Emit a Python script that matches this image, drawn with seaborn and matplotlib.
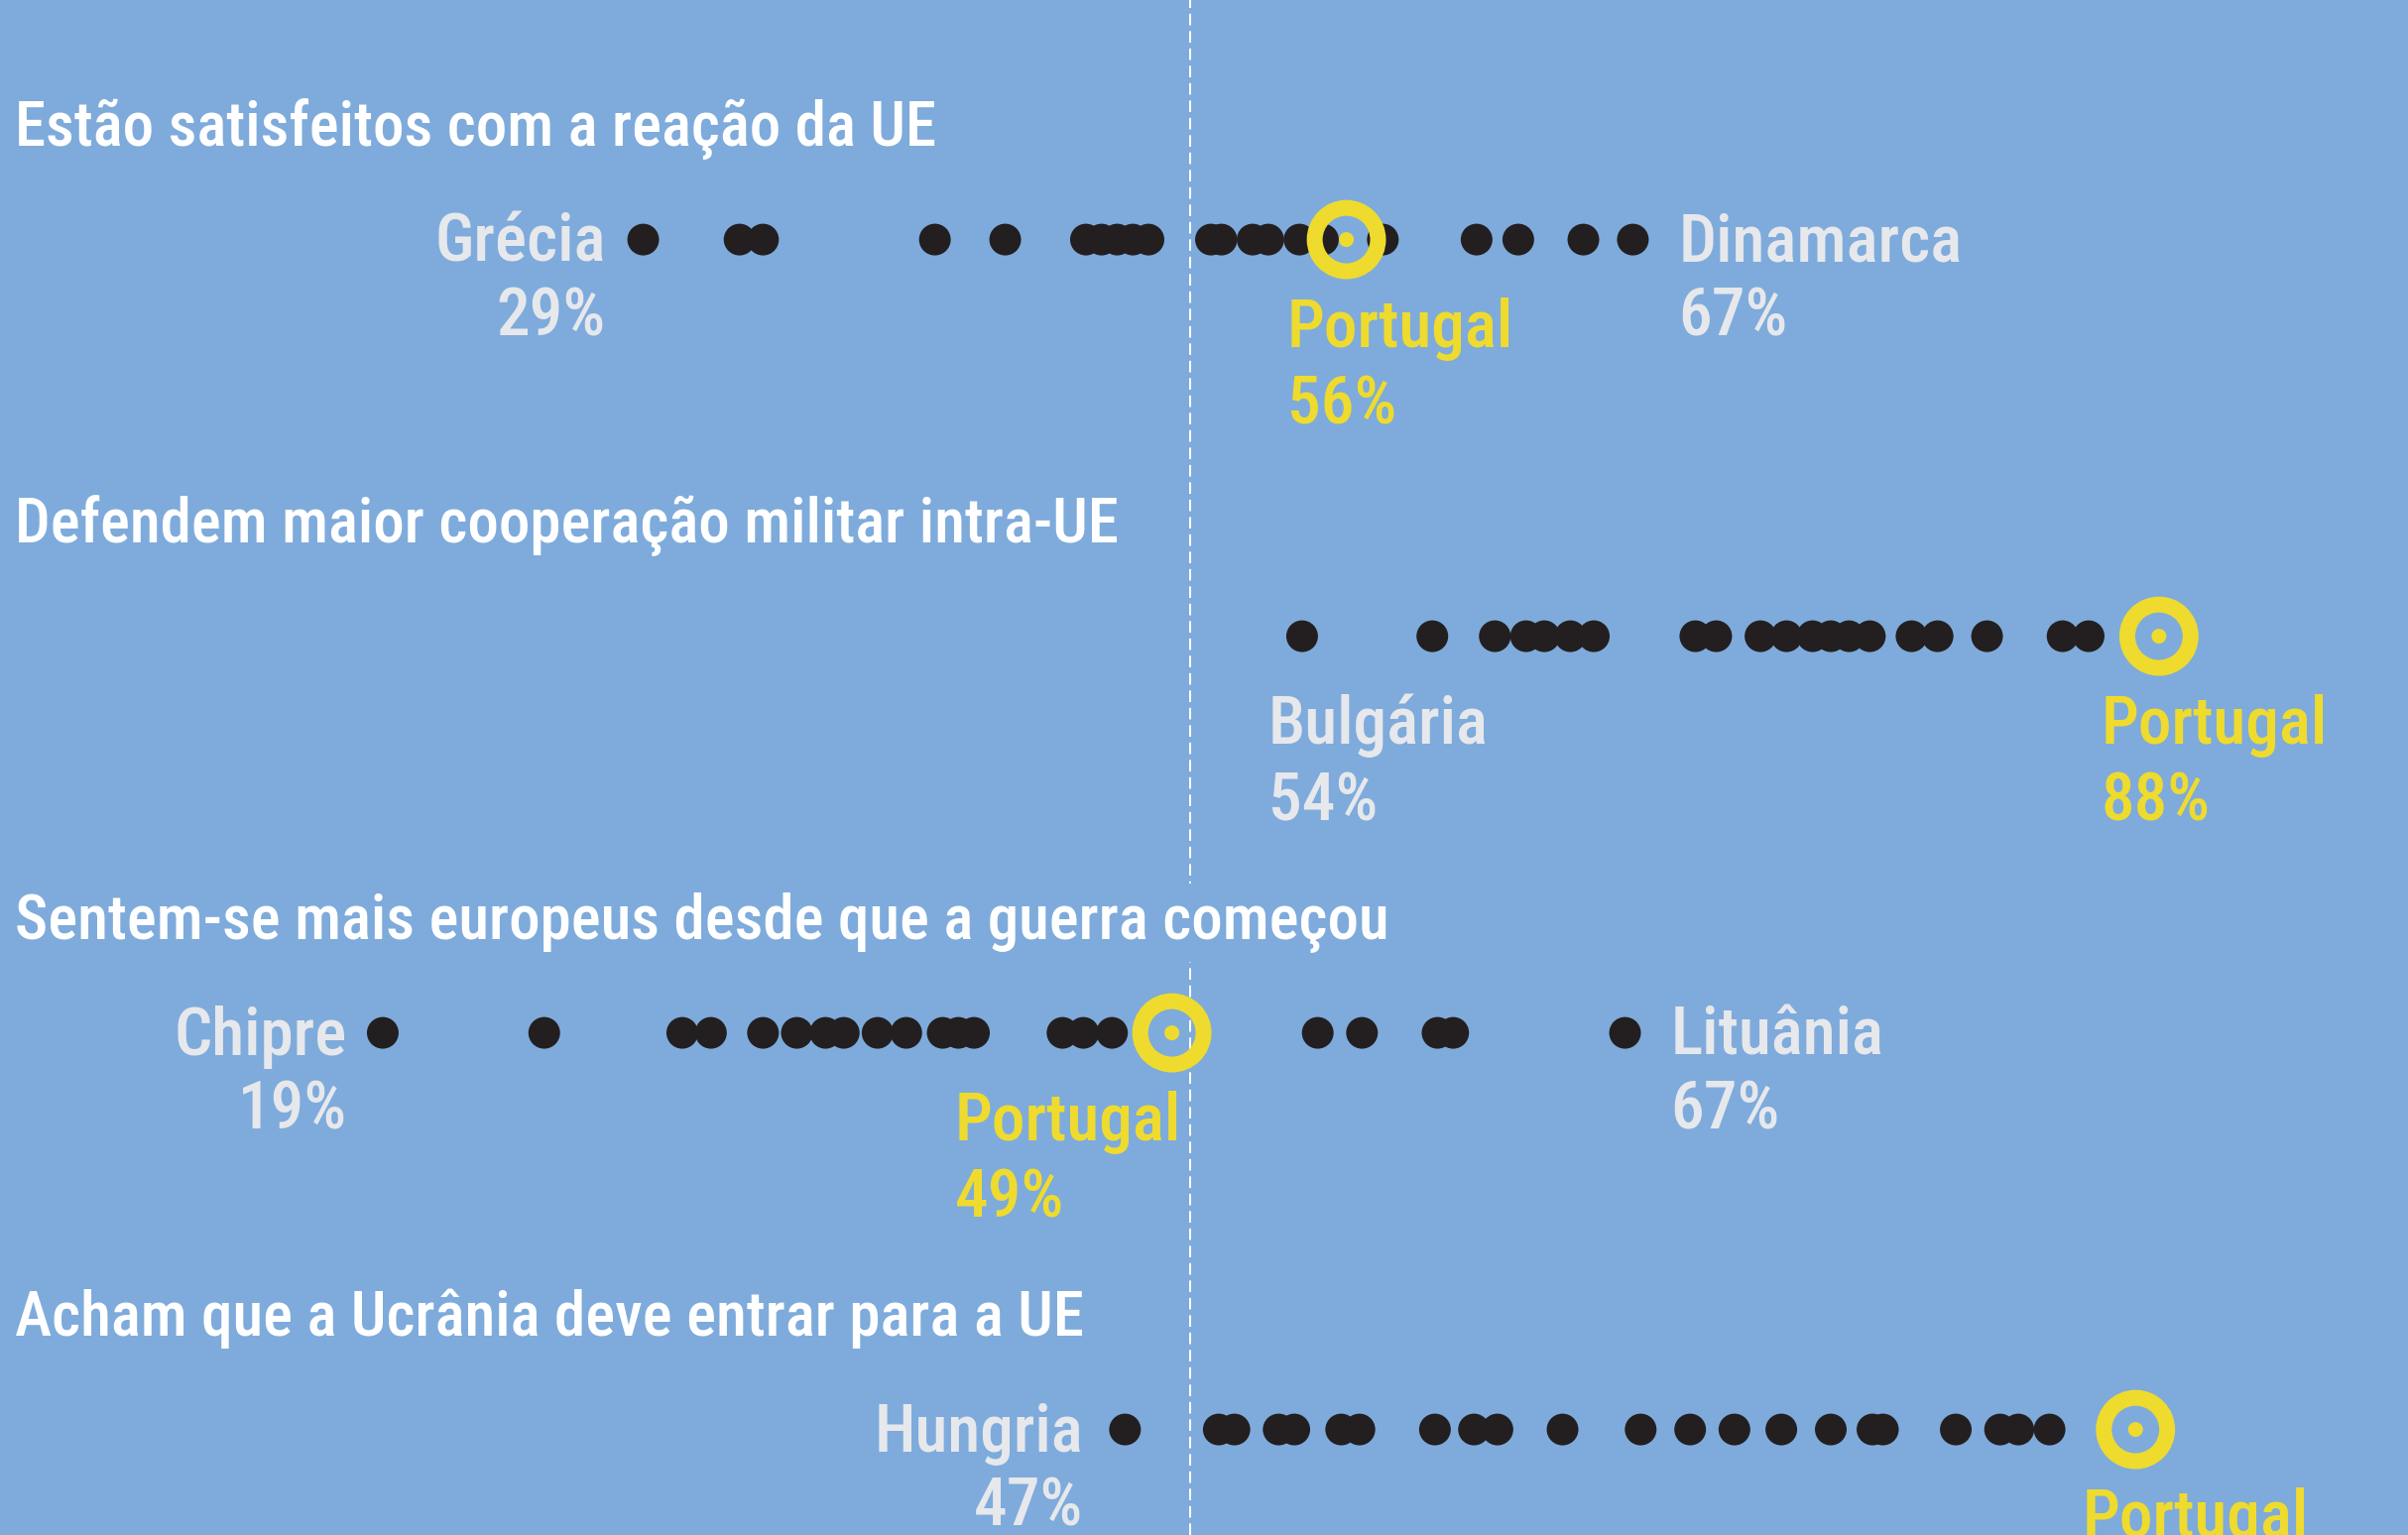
import matplotlib
matplotlib.use("Agg")
import matplotlib.pyplot as plt
from matplotlib import font_manager as fm
from matplotlib.transforms import blended_transform_factory
import pandas as pd
import seaborn as sns

# --- dados (percentagem por país, uma linha por pergunta) ---
temas = [
    "Estão satisfeitos com a reação da UE",
    "Defendem maior cooperação militar intra-UE",
    "Sentem-se mais europeus desde que a guerra começou",
    "Acham que a Ucrânia deve entrar para a UE",
]
satisfeitos = [29, 32.7, 33.6, 40.2, 42.9, 46.0, 46.6, 47.2, 47.8, 48.4, 50.8,
               51.2, 52.4, 53.0, 54.2, 55.1, 57.4, 61.0, 62.6, 65.1, 67]
cooperacao = [54.3, 59.3, 61.7, 62.9, 63.6, 64.6, 65.5, 69.4, 70.2, 71.9, 72.9,
              73.9, 74.6, 75.3, 76.1, 77.7, 78.7, 80.6, 83.5, 84.5]
europeus = [19, 25.2, 30.5, 31.6, 33.6, 34.9, 36.0, 36.7, 38.0, 39.1, 40.5,
            41.1, 41.7, 45.1, 45.9, 47.0, 54.9, 56.6, 59.5, 60.1, 66.7]
ucrania = [47.5, 51.1, 51.7, 53.4, 54.0, 55.8, 56.5, 59.4, 60.9, 61.8, 64.3,
           67.3, 69.2, 70.9, 72.7, 74.6, 76.2, 76.6, 79.4, 81.1, 81.8, 83.0]

portugal = [56, 87.2, 49.3, 86.3]
# a última percentagem fica fora do recorte do original
portugal_rotulo = ["56%", "88%", "49%", ""]

extremos_pais = ["Grécia", "Dinamarca", "Bulgária", "Chipre", "Lituânia", "Hungria"]
extremos_linha = [0, 0, 1, 2, 2, 3]
extremos_valor = [29, 67, 54.3, 19, 66.7, 47.5]
extremos_rotulo = ["29%", "67%", "54%", "19%", "67%", "47%"]

# posição dos rótulos (modo, deslocamento horizontal em px)
extremos_modo = [("esq", -38), ("dir", 46), ("baixo", -34), ("esq", -36), ("dir", 46), ("esq", -42)]
portugal_dx = [-60, -58, -219, -54]

FUNDO = "#7EABDB"
PRETO = "#231F20"
AMARELO = "#EEDB2E"
CINZA = "#E6E8EC"


def fonte_estreita(peso):
    estreitos = ("condensed", "semi-condensed", "extra-condensed", "ultra-condensed")
    preferidas = ["Roboto Condensed", "Liberation Sans Narrow", "Open Sans", "Noto Sans", "DejaVu Sans"]
    melhor = None
    for f in fm.fontManager.ttflist:
        if f.style != "normal":
            continue
        if not (f.stretch in estreitos or "Condensed" in f.name or "Narrow" in f.name):
            continue
        w = f.weight if isinstance(f.weight, int) else fm.weight_dict.get(f.weight, 400)
        rank = next((i for i, p in enumerate(preferidas) if f.name.startswith(p)), 9)
        chave = (rank, abs(w - peso))
        if melhor is None or chave < melhor[0]:
            melhor = (chave, f.fname)
    if melhor:
        return fm.FontProperties(fname=melhor[1])
    return fm.FontProperties(family="Roboto", weight=peso)


fonte_titulo = fonte_estreita(500)
fonte_rotulo = fonte_estreita(500)

linhas = []
for i, valores in enumerate([satisfeitos, cooperacao, europeus, ucrania]):
    linhas += [{"linha": i, "valor": v} for v in valores]
df = pd.DataFrame(linhas)
df_pt = pd.DataFrame({"linha": range(4), "valor": portugal})

fig = plt.figure(figsize=(24.28, 15.48), dpi=100)
fig.patch.set_facecolor(FUNDO)
ax = fig.add_axes([0, 0, 1, 1])
ax.set_facecolor(FUNDO)

ax.axvline(50, color="white", lw=1.4, dashes=(6, 3), zorder=1)

sns.scatterplot(data=df, x="valor", y="linha", color=PRETO, s=530,
                edgecolor="none", legend=False, ax=ax, zorder=2)
sns.scatterplot(data=df_pt, x="valor", y="linha", color=AMARELO, facecolor="none",
                edgecolor=AMARELO, s=2116, linewidth=11.5, legend=False, ax=ax, zorder=4)
sns.scatterplot(data=df_pt, x="valor", y="linha", color=AMARELO, s=117,
                edgecolor="none", legend=False, ax=ax, zorder=4)

ax.set_xlim(4.303, 96.763)
ax.set_ylim(3.266, -0.604)
ax.axis("off")

trans = blended_transform_factory(ax.transAxes, ax.transData)
titulos = []
for i, t in enumerate(temas):
    titulos.append(ax.text(15 / 2428, i - 0.236, t, transform=trans, color="white",
                           fontproperties=fonte_titulo, fontsize=44, va="baseline", ha="left",
                           zorder=3, bbox=dict(facecolor=FUNDO, edgecolor="none", pad=6)))


def rotulo(x, y, nome, pct, cor, modo, dx):
    if modo == "baixo":
        desl, ha = [108, 186], "left"
    else:
        desl, ha = [22, 97], ("right" if modo == "esq" else "left")
    textos = []
    for texto, dy in zip([nome, pct], desl):
        if not texto:
            continue
        textos.append(ax.annotate(texto, (x, y), xytext=(dx * 0.72, -dy * 0.72),
                                  textcoords="offset points", ha=ha, va="baseline",
                                  color=cor, fontproperties=fonte_rotulo, fontsize=46,
                                  zorder=5))
    return textos


rotulos = []
for pais, lin, val, pct, (modo, dx) in zip(extremos_pais, extremos_linha, extremos_valor,
                                            extremos_rotulo, extremos_modo):
    rotulos += rotulo(val, lin, pais, pct, CINZA, modo, dx)
for i, (val, pct, dx) in enumerate(zip(portugal, portugal_rotulo, portugal_dx)):
    rotulos += rotulo(val, i, "Portugal", pct, AMARELO, "baixo", dx)

# ajusta o tamanho das letras à largura medida no original
fig.canvas.draw()
r = fig.canvas.get_renderer()
escala_t = 930 / titulos[0].get_window_extent(r).width
for t in titulos:
    t.set_fontsize(t.get_fontsize() * escala_t)
escala_r = 286 / rotulos[2].get_window_extent(r).width
for t in rotulos:
    t.set_fontsize(t.get_fontsize() * escala_r)

fig.savefig("out.png", dpi=100, facecolor=FUNDO)
